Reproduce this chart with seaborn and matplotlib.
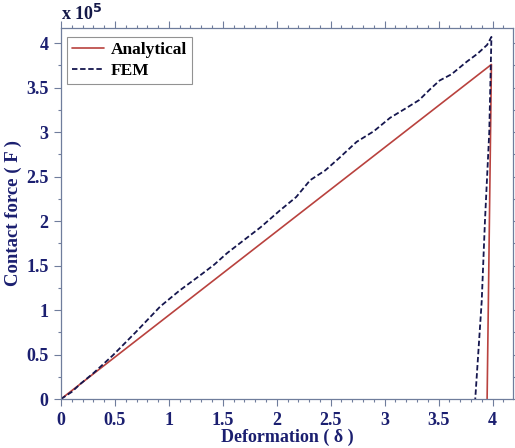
import matplotlib
matplotlib.use("Agg")
import matplotlib.pyplot as plt
import seaborn as sns
import pandas as pd
from matplotlib.ticker import MultipleLocator, FuncFormatter

# ---- data (force in units of 1e5) ----
analytical_delta = [0.0, 3.99, 3.95]
analytical_force = [0.0, 3.76, 0.0]

fem_delta = [0.0, 0.10, 0.18, 0.30, 0.48, 0.70, 0.92, 1.10, 1.29, 1.42, 1.54, 1.70,
             1.85, 2.03, 2.18, 2.31, 2.45, 2.58, 2.74, 2.90, 3.05, 3.20, 3.32,
             3.42, 3.51, 3.62, 3.76, 3.86, 3.95, 3.99, 3.97, 3.93, 3.90, 3.84]
fem_force = [0.0, 0.08, 0.17, 0.29, 0.49, 0.76, 1.04, 1.22, 1.39, 1.51, 1.64, 1.79,
             1.93, 2.12, 2.27, 2.46, 2.57, 2.71, 2.89, 3.01, 3.16, 3.27, 3.36,
             3.48, 3.58, 3.65, 3.79, 3.88, 3.98, 4.07, 3.00, 2.00, 1.10, 0.0]

x_ticks = [0, 0.5, 1, 1.5, 2, 2.5, 3, 3.5, 4]
y_ticks = [0, 0.5, 1, 1.5, 2, 2.5, 3, 3.5, 4]

df_an = pd.DataFrame({"delta": analytical_delta, "force": analytical_force})
df_fem = pd.DataFrame({"delta": fem_delta, "force": fem_force})

sns.set_style("ticks")
plt.rcParams["font.family"] = ["Liberation Serif", "DejaVu Serif"]
plt.rcParams["font.weight"] = "bold"

navy = "#1b1f70"
spine_c = "#6f7d9c"

fig = plt.figure(figsize=(5.15, 4.48), dpi=100)
ax = fig.add_axes([61 / 515, 1 - 399 / 448, (513 - 61) / 515, (399 - 28) / 448])

sns.lineplot(data=df_an, x="delta", y="force", sort=False, estimator=None,
             color="#b9423e", linewidth=1.2, label="Analytical", ax=ax)
sns.lineplot(data=df_fem, x="delta", y="force", sort=False, estimator=None,
             color="#15164e", linewidth=1.3, label="FEM", ax=ax)
ax.lines[1].set_dashes((3.0, 1.5))

ax.set_xlim(0, 4.19)
ax.set_ylim(0, 4.17)
ax.set_xticks(x_ticks)
ax.set_yticks(y_ticks)
ax.xaxis.set_minor_locator(MultipleLocator(0.1))
ax.yaxis.set_minor_locator(MultipleLocator(0.25))
fmt = FuncFormatter(lambda v, p: "%g" % v)
ax.xaxis.set_major_formatter(fmt)
ax.yaxis.set_major_formatter(fmt)

for s in ax.spines.values():
    s.set_visible(True)
    s.set_color(spine_c)
    s.set_linewidth(0.9)

ax.tick_params(which="both", direction="out", color=spine_c, top=True, right=True,
               width=0.8)
ax.tick_params(which="major", length=5, labelsize=13, labelcolor=navy, pad=4)
ax.tick_params(which="minor", length=2.5)
for lab in ax.get_xticklabels() + ax.get_yticklabels():
    lab.set_fontweight("bold")

ax.set_xlabel("Deformation ( δ )", fontsize=13, fontweight="bold", color=navy, labelpad=0)
ax.set_ylabel("Contact force ( F )", fontsize=13.5, fontweight="bold", color=navy, labelpad=3)

ax.text(0.0, 1.012, "x 10$^{\\mathbf{5}}$", transform=ax.transAxes, fontsize=13,
        fontweight="bold", color="#141848", ha="left", va="bottom")

leg = ax.legend(loc="upper left", bbox_to_anchor=(0.006, 0.985), fontsize=12.5,
                frameon=True, fancybox=False, edgecolor="#777777", handlelength=1.8,
                handletextpad=0.4, borderpad=0.3, labelspacing=0.25, borderaxespad=0.2)
leg.get_frame().set_linewidth(0.8)
for t in leg.get_texts():
    t.set_fontweight("bold")
    t.set_color("black")

fig.savefig("out.png", dpi=100)
